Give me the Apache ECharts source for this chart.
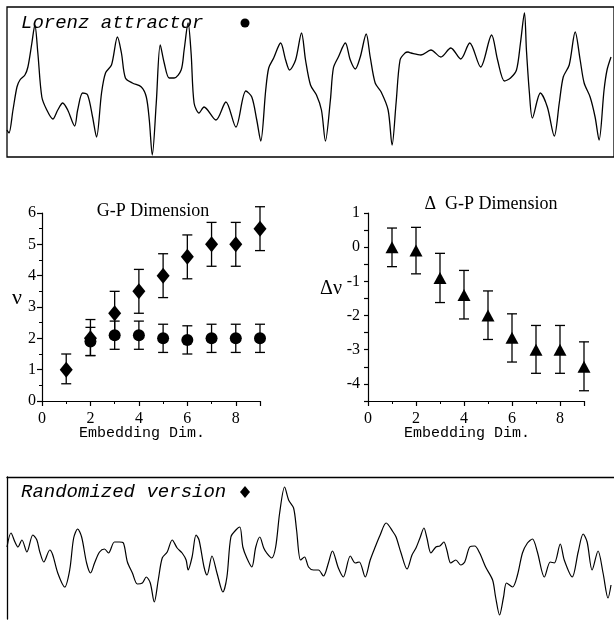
<!DOCTYPE html>
<html><head><meta charset="utf-8">
<script src="https://cdn.jsdelivr.net/npm/echarts@6/dist/echarts.min.js"></script>
<style>html,body{margin:0;padding:0;background:#fff}#c{width:614px;height:625px}</style>
</head><body><div id="c"></div>
<script>
// Top trace: Lorenz attractor (time, amplitude in arbitrary units)
const lorenzTime = [0,2,6,10,13,18,21,25,28,31,35,40,46,51,56,61,68,71,76,81,86,90,95,99,105,111,115,119,126,135,140,143,146,150,154,158,163,168,175,178,182,185,188,193,198,210,220,230,240,246,251,255,260,263,268,275,280,284,290,296,300,305,311,316,320,325,328,333,340,345,350,355,361,365,370,376,383,387,391,395,400,403,406,416,426,436,446,456,465,476,487,493,500,506,512,516,520,522,525,528,536,543,550,555,559,565,571,576,580,586,591,595,600,603,607];
const lorenzValue = [27,24,47,70,77,82,90,114,132,104,60,47,38,47,54,47,31,47,64,62,40,20,64,84,92,120,104,79,74,70,60,37,2,54,112,94,79,79,87,107,134,104,54,44,50,37,55,30,66,60,37,16,67,89,99,114,97,87,97,124,97,72,62,47,16,57,89,100,114,97,88,100,123,100,74,65,47,12,54,97,104,105,104,102,107,100,109,98,114,90,122,97,76,79,87,114,144,107,64,39,64,50,21,54,80,92,125,97,74,60,40,17,67,87,100];

// Bottom trace: randomized version
const randTime = [0,4,8,11,15,20,26,30,33,37,43,46,51,58,63,67,71,75,80,84,88,93,98,102,108,113,117,121,126,131,136,140,144,148,152,156,161,166,171,176,180,182,186,190,193,198,201,206,211,217,221,225,230,234,237,241,246,250,254,258,261,266,270,274,279,283,288,291,295,299,303,308,313,318,323,327,333,338,345,350,354,360,365,370,375,381,388,391,396,402,407,411,415,419,422,426,431,435,439,442,446,451,456,460,465,470,475,481,488,491,495,499,502,508,513,518,523,528,533,540,546,550,556,560,568,574,579,583,588,594,599,604,607];
const randValue = [78,92,83,78,85,73,90,85,73,63,75,70,52,38,55,87,96,88,62,52,62,73,76,72,83,83,82,63,52,41,42,48,42,23,45,67,73,85,77,72,65,55,68,90,85,58,50,69,52,33,48,88,95,98,78,67,58,78,88,77,72,67,78,112,138,125,117,95,65,68,58,55,55,49,62,74,57,48,69,62,63,48,65,78,90,102,93,88,72,56,70,77,87,97,87,72,78,79,83,75,62,65,60,63,78,79,72,58,45,28,10,28,42,38,50,72,82,86,73,48,63,62,81,65,48,73,91,83,55,74,52,27,40];

// Middle panels
const embDim = [1,2,3,4,5,6,7,8,9];
const gpRandom = [1.0,2.0,2.8,3.5,4.0,4.6,5.0,5.0,5.5];
const gpRandomHigh = [1.5,2.6,3.5,4.2,4.7,5.3,5.7,5.7,6.2];
const gpRandomLow = [0.55,1.45,2.1,2.8,3.3,3.9,4.3,4.3,4.8];
const embDimLorenz = [2,3,4,5,6,7,8,9];
const gpLorenz = [1.9,2.1,2.1,2.0,1.95,2.0,2.0,2.0];
const gpLorenzHigh = [2.35,2.55,2.55,2.45,2.4,2.45,2.45,2.45];
const gpLorenzLow = [1.45,1.65,1.65,1.55,1.5,1.55,1.55,1.55];
const deltaGP = [0,-0.1,-0.9,-1.4,-2.0,-2.65,-3.0,-3.0,-3.5];
const deltaHigh = [0.56,0.58,-0.18,-0.68,-1.28,-1.95,-2.29,-2.29,-2.77];
const deltaLow = [-0.57,-0.78,-1.62,-2.1,-2.7,-3.36,-3.69,-3.69,-4.2];

const zip = (a,b) => a.map((v,i)=>[v,b[i]]);
const zip3 = (a,b,c) => a.map((v,i)=>[v,b[i],c[i]]);

const serif = 'Liberation Serif, Times New Roman, serif';
const mono = 'Liberation Mono, Courier New, monospace';

function errBar(params, api){
  const x = api.value(0);
  const lo = api.coord([x, api.value(1)]);
  const hi = api.coord([x, api.value(2)]);
  const w = 5;
  const st = {stroke:'#000', lineWidth:1.3};
  return {type:'group', children:[
    {type:'line', shape:{x1:lo[0],y1:lo[1],x2:hi[0],y2:hi[1]}, style:st},
    {type:'line', shape:{x1:lo[0]-w,y1:lo[1],x2:lo[0]+w,y2:lo[1]}, style:st},
    {type:'line', shape:{x1:hi[0]-w,y1:hi[1],x2:hi[0]+w,y2:hi[1]}, style:st}
  ]};
}

const axisCommon = {
  axisLine:{show:true, onZero:false, lineStyle:{color:'#000', width:1.2}},
  axisTick:{show:true, length:5, lineStyle:{color:'#000', width:1.2}},
  splitLine:{show:false},
  axisLabel:{color:'#000', fontFamily:serif, fontSize:16}
};
const mark = {color:'#000', opacity:1};

const chart = echarts.init(document.getElementById('c'), null, {renderer:'canvas'});
chart.setOption({
  backgroundColor:'#fff',
  animation:false,
  grid:[
    {left:7, top:7, width:610, height:150, show:true, borderColor:'#000', borderWidth:1.3, backgroundColor:'transparent'},
    {left:42, top:213, width:218, height:188},
    {left:368, top:213, width:216, height:188},
    {left:7, top:477, width:610, height:142}
  ],
  xAxis:[
    {gridIndex:0, type:'value', min:0, max:610, show:false},
    Object.assign({}, axisCommon, {gridIndex:1, type:'value', min:0, max:9, interval:2,
      minorTick:{show:true, splitNumber:2, length:3, lineStyle:{color:'#000'}},
      axisLabel:Object.assign({}, axisCommon.axisLabel, {showMaxLabel:false, margin:10})}),
    Object.assign({}, axisCommon, {gridIndex:2, type:'value', min:0, max:9, interval:2,
      minorTick:{show:true, splitNumber:2, length:3, lineStyle:{color:'#000'}},
      axisLabel:Object.assign({}, axisCommon.axisLabel, {showMaxLabel:false, margin:10})}),
    {gridIndex:3, type:'value', min:0, max:610, position:'top',
      axisLine:{show:true, lineStyle:{color:'#000', width:1.3}}, axisTick:{show:false}, axisLabel:{show:false}, splitLine:{show:false}}
  ],
  yAxis:[
    {gridIndex:0, type:'value', min:0, max:150, show:false},
    Object.assign({}, axisCommon, {gridIndex:1, type:'value', min:0, max:6, interval:1,
      minorTick:{show:true, splitNumber:2, length:3, lineStyle:{color:'#000'}},
      axisLabel:Object.assign({}, axisCommon.axisLabel, {margin:6})}),
    Object.assign({}, axisCommon, {gridIndex:2, type:'value', min:-4.5, max:1, interval:0.5,
      axisTick:{show:true, length:4, lineStyle:{color:'#000', width:1.2}},
      axisLabel:Object.assign({}, axisCommon.axisLabel, {margin:8,
        formatter:v => Number.isInteger(v) ? String(v) : ''})}),
    {gridIndex:3, type:'value', min:6, max:148,
      axisLine:{show:true, lineStyle:{color:'#000', width:1.3}}, axisTick:{show:false}, axisLabel:{show:false}, splitLine:{show:false}}
  ],
  series:[
    {type:'line', xAxisIndex:0, yAxisIndex:0, data:zip(lorenzTime, lorenzValue), symbol:'none', smooth:0.3,
      lineStyle:{color:'#000', width:1.3}},
    {type:'line', xAxisIndex:3, yAxisIndex:3, data:zip(randTime, randValue), symbol:'none', smooth:0.3,
      lineStyle:{color:'#000', width:1.2}},
    {type:'custom', xAxisIndex:1, yAxisIndex:1, renderItem:errBar, data:zip3(embDim, gpRandomLow, gpRandomHigh), clip:false, z:2},
    {type:'custom', xAxisIndex:1, yAxisIndex:1, renderItem:errBar, data:zip3(embDimLorenz, gpLorenzLow, gpLorenzHigh), clip:false, z:2},
    {type:'scatter', xAxisIndex:1, yAxisIndex:1, data:zip(embDimLorenz, gpLorenz), symbol:'circle', symbolSize:12,
      itemStyle:mark, clip:false, z:3},
    {type:'scatter', xAxisIndex:1, yAxisIndex:1, data:zip(embDim, gpRandom), symbol:'diamond', symbolSize:[13,16],
      itemStyle:mark, clip:false, z:4},
    {type:'custom', xAxisIndex:2, yAxisIndex:2, renderItem:errBar, data:zip3(embDim, deltaLow, deltaHigh), clip:false, z:2},
    {type:'scatter', xAxisIndex:2, yAxisIndex:2, data:zip(embDim, deltaGP), symbol:'triangle', symbolSize:[13,12],
      itemStyle:mark, clip:false, z:3}
  ],
  graphic:[
    {type:'text', x:21, y:23, style:{text:'Lorenz attractor', font:'italic 19px '+mono, fill:'#000', textVerticalAlign:'middle'}},
    {type:'circle', shape:{cx:245, cy:23, r:4.5}, style:{fill:'#000'}},
    {type:'text', x:21, y:492, style:{text:'Randomized version', font:'italic 19px '+mono, fill:'#000', textVerticalAlign:'middle'}},
    {type:'polygon', shape:{points:[[245,486],[250,492],[245,498],[240,492]]}, style:{fill:'#000'}},
    {type:'text', x:153, y:211, style:{text:'G-P Dimension', font:'18px '+serif, fill:'#000', textAlign:'center', textVerticalAlign:'middle'}},
    {type:'text', x:491, y:204, style:{text:'\u0394  G-P Dimension', font:'18px '+serif, fill:'#000', textAlign:'center', textVerticalAlign:'middle'}},
    {type:'text', x:17, y:298, style:{text:'\u03bd', font:'22px '+serif, fill:'#000', textAlign:'center', textVerticalAlign:'middle'}},
    {type:'text', x:331, y:289, style:{text:'\u0394\u03bd', font:'20px '+serif, fill:'#000', textAlign:'center', textVerticalAlign:'middle'}},
    {type:'text', x:142, y:433, style:{text:'Embedding Dim.', font:'15px '+mono, fill:'#000', textAlign:'center', textVerticalAlign:'middle'}},
    {type:'text', x:467, y:433, style:{text:'Embedding Dim.', font:'15px '+mono, fill:'#000', textAlign:'center', textVerticalAlign:'middle'}}
  ]
});
</script></body></html>
